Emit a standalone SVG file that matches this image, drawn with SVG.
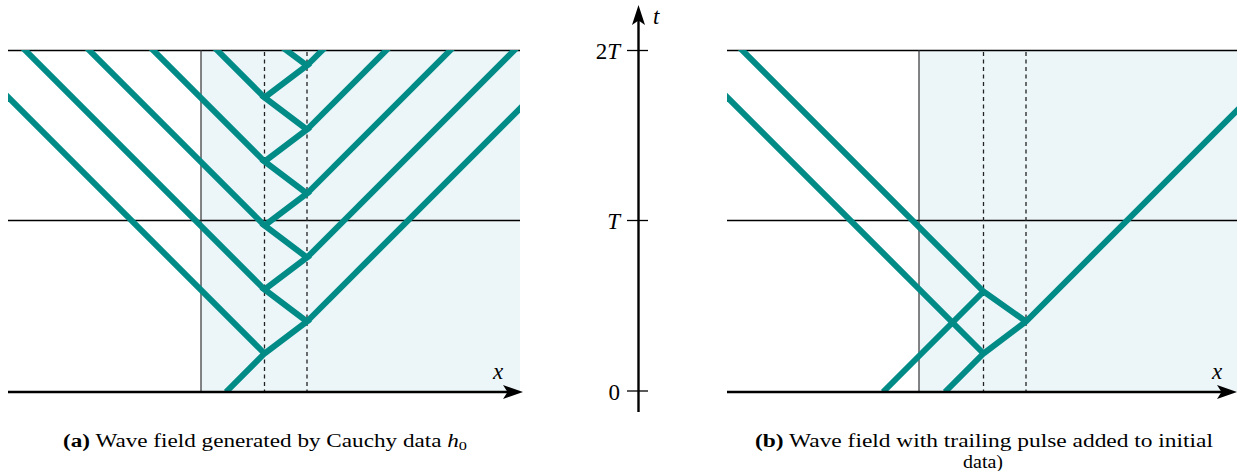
<svg xmlns="http://www.w3.org/2000/svg" width="1238" height="471" viewBox="0 0 1238 471">
<style>
.wave{fill:none;stroke:#008b87;stroke-width:6;stroke-linejoin:miter;stroke-linecap:butt}
.hline{stroke:#000;stroke-width:1.3}
.vline{stroke:#333;stroke-width:1.2}
.dash{stroke:#222;stroke-width:1.3;stroke-dasharray:4 3.5}
.axis{stroke:#000;stroke-width:2.4;fill:none}
.shade{fill:#ecf6f9}
.math{font-family:"Liberation Serif","DejaVu Serif",serif;font-size:23px;fill:#000}
.cap{font-family:"Liberation Serif","DejaVu Serif",serif;font-size:18.5px;fill:#000}
</style>
<defs>
<clipPath id="clipA"><rect x="8" y="50" width="512" height="342"/></clipPath>
<clipPath id="clipB"><rect x="727" y="50" width="510" height="342"/></clipPath>
</defs>

<g id="panel-a">
<rect class="shade" x="201" y="50" width="319" height="342"/>
<line class="hline" x1="8" y1="50.5" x2="520" y2="50.5"/>
<line class="hline" x1="8" y1="220.5" x2="520" y2="220.5"/>
<line class="vline" x1="201" y1="50" x2="201" y2="392"/>
<line class="dash" x1="264.5" y1="52" x2="264.5" y2="392"/>
<line class="dash" x1="307" y1="52" x2="307" y2="392"/>
<g clip-path="url(#clipA)">
<path class="wave" d="M226,392 L264.5,353.5 L307,321.5 L264.5,289.5 L307,257.5 L264.5,225.5 L307,193.5 L264.5,161.5 L307,129.5 L264.5,97.5 L307,65.5 L280,45.5"/>
<path class="wave" d="M264.5,353.5 L0,89"/>
<path class="wave" d="M264.5,289.5 L0,25"/>
<path class="wave" d="M264.5,225.5 L0,-39"/>
<path class="wave" d="M264.5,161.5 L100,-3"/>
<path class="wave" d="M264.5,97.5 L200,33"/>
<path class="wave" d="M307,321.5 L540,88.5"/>
<path class="wave" d="M307,257.5 L540,24.5"/>
<path class="wave" d="M307,193.5 L540,-39.5"/>
<path class="wave" d="M307,129.5 L540,-103.5"/>
<path class="wave" d="M307,65.5 L340,32.5"/>
</g>
<line class="axis" x1="8" y1="392" x2="512" y2="392"/>
<path d="M523,392 L503,385 L507.5,392 L503,399 Z" fill="#000"/>
<text class="math" x="493" y="379" font-style="italic">x</text>
</g>

<g id="panel-b">
<rect class="shade" x="919" y="50" width="318" height="342"/>
<line class="hline" x1="727" y1="50.5" x2="1237" y2="50.5"/>
<line class="hline" x1="727" y1="220.5" x2="1237" y2="220.5"/>
<line class="vline" x1="919" y1="50" x2="919" y2="392"/>
<line class="dash" x1="983.5" y1="52" x2="983.5" y2="392"/>
<line class="dash" x1="1026" y1="52" x2="1026" y2="392"/>
<g clip-path="url(#clipB)">
<path class="wave" d="M1026,321.5 L983.5,291.5 L735,43"/>
<path class="wave" d="M883,392 L983.5,291.5"/>
<path class="wave" d="M945,392 L983.5,353.5 L1026,321.5 L1260,87.5"/>
<path class="wave" d="M983.5,353.5 L720,90"/>
</g>
<line class="axis" x1="727" y1="392" x2="1226" y2="392"/>
<path d="M1237,392 L1217,385 L1221.5,392 L1217,399 Z" fill="#000"/>
<text class="math" x="1212" y="379" font-style="italic">x</text>
</g>

<g id="t-axis">
<line class="axis" x1="638.5" y1="412" x2="638.5" y2="18"/>
<path d="M638.5,5 L632,25 L638.5,20.5 L645,25 Z" fill="#000"/>
<line class="hline" x1="627" y1="50.5" x2="648" y2="50.5"/>
<line class="hline" x1="627" y1="220.5" x2="648" y2="220.5"/>
<line class="hline" x1="627" y1="391" x2="648" y2="391"/>
<text class="math" x="653" y="24" font-style="italic">t</text>
<text class="math" x="620" y="59" text-anchor="end">2<tspan font-style="italic">T</tspan></text>
<text class="math" x="620" y="229" text-anchor="end" font-style="italic">T</text>
<text class="math" x="620" y="400" text-anchor="end">0</text>
</g>

<g id="captions">
<text class="cap" x="63" y="447" textLength="404" lengthAdjust="spacingAndGlyphs"><tspan font-weight="bold">(a)</tspan> Wave field generated by Cauchy data <tspan font-style="italic">h</tspan><tspan font-size="13" dy="3">0</tspan></text>
<text class="cap" x="755" y="447" textLength="458" lengthAdjust="spacingAndGlyphs"><tspan font-weight="bold">(b)</tspan> Wave field with trailing pulse added to initial</text>
<text class="cap" x="963" y="468" textLength="40" lengthAdjust="spacingAndGlyphs">data)</text>
</g>
</svg>
